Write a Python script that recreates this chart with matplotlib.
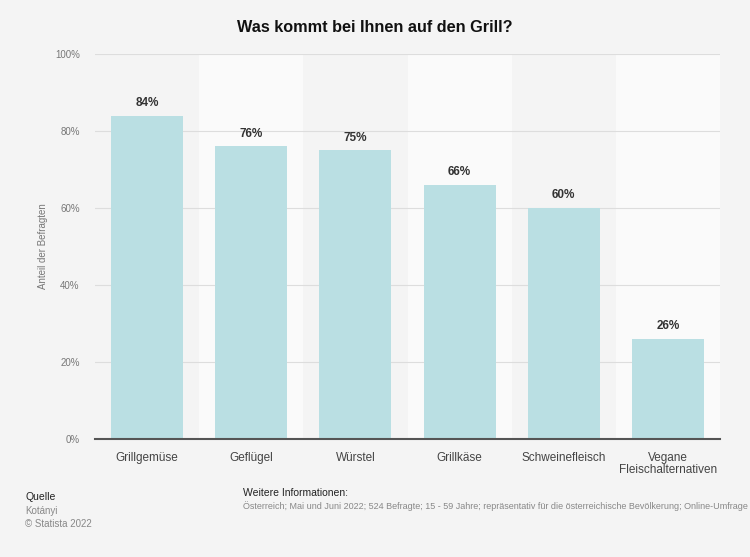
import matplotlib
matplotlib.use('Agg')
import matplotlib.pyplot as plt

plt.rcParams['font.family'] = ['Liberation Sans', 'DejaVu Sans']

categories = ['Grillgemüse', 'Geflügel', 'Würstel', 'Grillkäse',
              'Schweinefleisch', 'Vegane\nFleischalternativen']
values = [84, 76, 75, 66, 60, 26]
yticks = [0, 20, 40, 60, 80, 100]

bg = '#f4f4f4'
fig = plt.figure(figsize=(7.5, 5.57), dpi=100, facecolor=bg)
ax = fig.add_axes([0.1267, 0.2118, 0.8333, 0.6912])
ax.set_facecolor(bg)

x = range(len(categories))
# lighter column bands behind every second category
for i in x:
    if i % 2 == 1:
        ax.axvspan(i - 0.5, i + 0.5, color='#fafafa', zorder=0, lw=0)

ax.bar(x, values, width=0.69, color='#badfe3', zorder=2)
for i, v in zip(x, values):
    ax.text(i, v + 1.7, f'{v}%', ha='center', va='bottom', fontsize=8.5,
            fontweight='bold', color='#333333', zorder=3)

ax.set_xlim(-0.5, len(categories) - 0.5)
ax.set_ylim(0, 100)
ax.set_yticks(yticks)
ax.set_yticklabels([f'{t}%' for t in yticks], fontsize=7, color='#777777')
ax.yaxis.grid(True, color='#dddddd', lw=0.8, zorder=1)
ax.set_axisbelow(True)
ax.set_xticks(list(x))
ax.set_xticklabels(categories, fontsize=8.5, color='#444444', linespacing=1.05)
ax.tick_params(axis='both', length=0)
ax.tick_params(axis='x', pad=9)
ax.tick_params(axis='y', pad=11)
for s in ['top', 'right', 'left']:
    ax.spines[s].set_visible(False)
ax.spines['bottom'].set_color('#555555')
ax.spines['bottom'].set_linewidth(1.5)
ax.spines['bottom'].set_zorder(4)

ax.set_ylabel('Anteil der Befragten', fontsize=7, color='#777777', labelpad=5)

fig.text(0.5, 0.951, 'Was kommt bei Ihnen auf den Grill?', ha='center',
         va='center', fontsize=11.7, fontweight='bold', color='#111111')

fig.text(25 / 750, 1 - 497 / 557, 'Quelle', fontsize=7.5, color='#222222', va='center')
fig.text(25 / 750, 1 - 511 / 557, 'Kotányi', fontsize=7, color='#888888', va='center')
fig.text(25 / 750, 1 - 524 / 557, '© Statista 2022', fontsize=7, color='#888888', va='center')
fig.text(243 / 750, 1 - 493 / 557, 'Weitere Informationen:', fontsize=7.5,
         color='#222222', va='center')
fig.text(243 / 750, 1 - 506 / 557,
         'Österreich; Mai und Juni 2022; 524 Befragte; 15 - 59 Jahre; '
         'repräsentativ für die österreichische Bevölkerung; Online-Umfrage',
         fontsize=6.45, color='#888888', va='center')

fig.savefig('out.png', dpi=100, facecolor=bg)
